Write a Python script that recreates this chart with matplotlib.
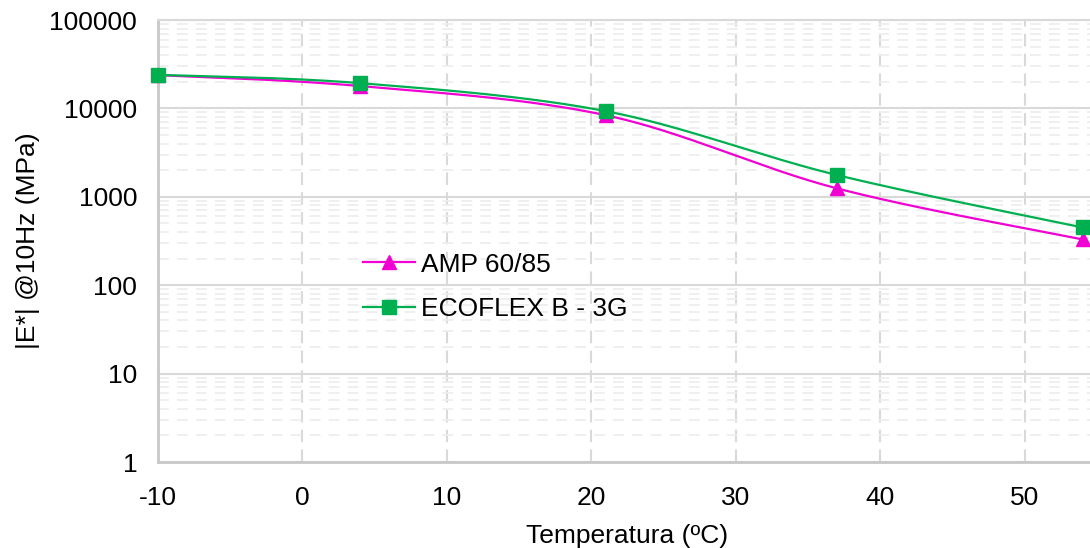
import numpy as np
import matplotlib
matplotlib.use("Agg")
import matplotlib.pyplot as plt
from matplotlib.ticker import FixedLocator, LogLocator, NullFormatter

plt.rcParams['font.family'] = ['Liberation Sans', 'DejaVu Sans']

temps = [-10, 4, 21, 37, 54]
amp_values = [23800, 17900, 8370, 1245, 329]
ecoflex_values = [24000, 19300, 9300, 1762, 450]
series_names = ["AMP 60/85", "ECOFLEX B - 3G"]
x_ticks = [-10, 0, 10, 20, 30, 40, 50]
y_ticks = [1, 10, 100, 1000, 10000, 100000]
x_label = "Temperatura (ºC)"
y_label = "|E*| @10Hz (MPa)"

MAGENTA = "#F000D2"
GREEN = "#00B050"


def smooth(xs, ys, n=60):
    # Catmull-Rom style Bezier smoothing (like Excel's smoothed lines) in (x, log y)
    P = np.column_stack([np.asarray(xs, float), np.log10(np.asarray(ys, float))])
    out = []
    m = len(P)
    for i in range(m - 1):
        p0 = P[i - 1] if i > 0 else P[i]
        p1 = P[i]
        p2 = P[i + 1]
        p3 = P[i + 2] if i + 2 < m else P[i + 1]
        c1 = p1 + (p2 - p0) / 6.0
        c2 = p2 - (p3 - p1) / 6.0
        t = np.linspace(0, 1, n)[:, None]
        b = ((1 - t) ** 3) * p1 + 3 * ((1 - t) ** 2) * t * c1 + 3 * (1 - t) * t ** 2 * c2 + t ** 3 * p2
        out.append(b if i == 0 else b[1:])
    B = np.vstack(out)
    return B[:, 0], 10 ** B[:, 1]


W, H = 1090, 548
fig = plt.figure(figsize=(W / 100, H / 100), dpi=100)
left, right, top, bottom = 158, 1097, 20, 462
ax = fig.add_axes([left / W, (H - bottom) / H, (right - left) / W, (bottom - top) / H])
ax.set_yscale("log")
ax.set_xlim(-10, 55)
ax.set_ylim(1, 100000)

# grid
ax.yaxis.set_minor_locator(LogLocator(base=10, subs=np.arange(2, 10)))
ax.yaxis.set_minor_formatter(NullFormatter())
ax.grid(True, which="major", axis="y", color="#D9D9D9", lw=1.5, ls="-")
ax.grid(True, which="minor", axis="y", color="#EEEEEE", lw=1.3, ls=(0, (6, 4.5)))
ax.grid(True, which="major", axis="x", color="#D9D9D9", lw=1.5, ls=(0, (6, 3.5)))
ax.set_axisbelow(True)

for name, vals, col, mk, ms in [
    (series_names[0], amp_values, MAGENTA, "^", 10.5),
    (series_names[1], ecoflex_values, GREEN, "s", 10.5),
]:
    sx, sy = smooth(temps, vals)
    ax.plot(sx, sy, color=col, lw=1.6, zorder=3)
    ax.plot(temps, vals, ls="none", marker=mk, ms=ms, color=col, zorder=4, clip_on=False)
    ax.plot([], [], color=col, lw=1.6, marker=mk, ms=ms * 0.95, label=name)

ax.xaxis.set_major_locator(FixedLocator(x_ticks))
ax.set_xticks(x_ticks)
ax.set_xticklabels([str(v) for v in x_ticks])
ax.set_yticks(y_ticks)
ax.set_yticklabels([str(v) for v in y_ticks])
ax.tick_params(axis="both", which="both", length=0, labelsize=19, colors="black")
ax.tick_params(axis="y", pad=15)
ax.tick_params(axis="x", pad=17)

ax.spines["right"].set_visible(False)
for s in ["left", "bottom"]:
    ax.spines[s].set_color("#C8C8C8")
    ax.spines[s].set_linewidth(2)
ax.spines["top"].set_color("#D9D9D9")
ax.spines["top"].set_linewidth(1.5)

ax.set_xlabel(x_label, fontsize=19, labelpad=10)
ax.set_ylabel(y_label, fontsize=19, labelpad=6.5)

leg = ax.legend(loc="upper left", bbox_to_anchor=((352 - left) / (right - left), (bottom - 242) / (bottom - top)),
                frameon=False, fontsize=19, handlelength=1.97, handletextpad=0.23,
                labelspacing=0.79, borderaxespad=0)

fig.savefig("out.png", dpi=100)
